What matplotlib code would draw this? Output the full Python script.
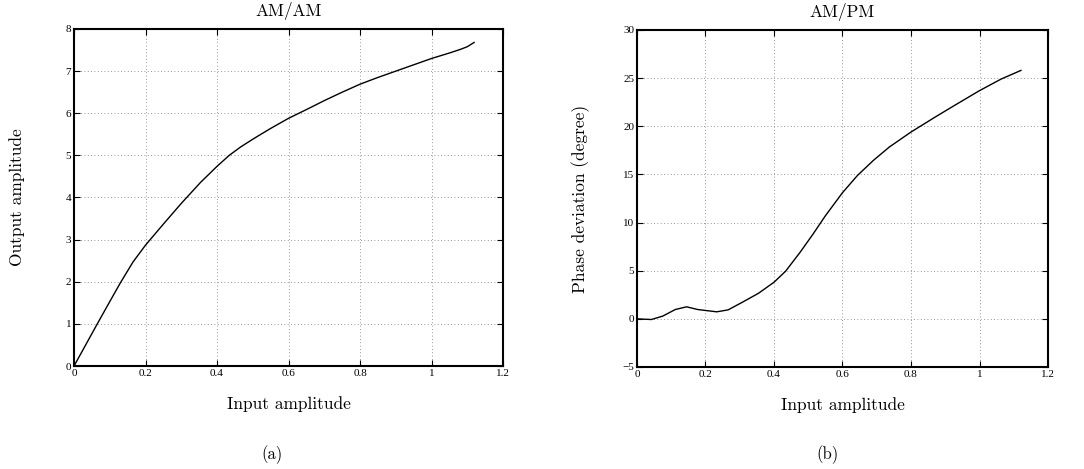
import matplotlib
matplotlib.use("Agg")
import matplotlib.pyplot as plt

# AM/AM data
amam_x = [0, 0.065, 0.1, 0.13, 0.165, 0.2, 0.25, 0.3, 0.354, 0.4, 0.434, 0.466, 0.503,
          0.55, 0.6, 0.653, 0.7, 0.75, 0.8, 0.85, 0.9, 0.95, 1.0, 1.05, 1.082, 1.1, 1.119]
amam_y = [0, 1.0, 1.53, 1.98, 2.47, 2.87, 3.37, 3.86, 4.36, 4.74, 5.0, 5.2, 5.4,
          5.64, 5.88, 6.1, 6.3, 6.5, 6.69, 6.85, 7.0, 7.15, 7.3, 7.43, 7.52, 7.58, 7.68]

# AM/PM data
ampm_x = [0, 0.042, 0.075, 0.112, 0.145, 0.177, 0.233, 0.266, 0.308, 0.355, 0.4,
          0.434, 0.476, 0.513, 0.55, 0.6, 0.644, 0.69, 0.737, 0.8, 0.868, 0.924,
          1.0, 1.063, 1.121]
ampm_y = [0, -0.07, 0.28, 0.97, 1.25, 0.97, 0.73, 0.93, 1.73, 2.66, 3.8,
          4.95, 6.9, 8.75, 10.7, 13.1, 14.9, 16.45, 17.85, 19.4, 20.9, 22.1,
          23.7, 24.9, 25.8]

xticks = [0, 0.2, 0.4, 0.6, 0.8, 1, 1.2]
xticklabels = ["0", "0.2", "0.4", "0.6", "0.8", "1", "1.2"]
amam_yticks = [0, 1, 2, 3, 4, 5, 6, 7, 8]
ampm_yticks = [-5, 0, 5, 10, 15, 20, 25, 30]

LABEL_FONT = 'cmr10'
TICK_FONT = 'Liberation Serif'

fig = plt.figure(figsize=(10.84, 4.69), dpi=100)
ax1 = fig.add_axes([0.0683, 0.2196, 0.3958, 0.7186])
ax2 = fig.add_axes([0.5876, 0.2175, 0.3792, 0.7186])

def style(ax, yticks, ylim, title, ylabel):
    ax.set_xlim(0, 1.2)
    ax.set_ylim(*ylim)
    ax.set_xticks(xticks)
    ax.set_xticklabels(xticklabels, fontfamily=TICK_FONT, fontsize=8)
    ax.set_yticks(yticks)
    ax.set_yticklabels([("\u2212" + str(-t)) if t < 0 else str(t) for t in yticks],
                       fontfamily=TICK_FONT, fontsize=8)
    ax.tick_params(direction='in', top=True, right=True, length=4, width=0.8, pad=2)
    ax.grid(True, linestyle=(0, (1, 3)), color='#777777', linewidth=0.6)
    for s in ax.spines.values():
        s.set_linewidth(1.5)
    ax.set_title(title, fontfamily=LABEL_FONT, fontsize=12.5, pad=9)
    ax.set_xlabel("Input amplitude", fontfamily=LABEL_FONT, fontsize=12.5, labelpad=13)
    ax.set_ylabel(ylabel, fontfamily=LABEL_FONT, fontsize=12.5)
    ax.yaxis.set_label_coords(-0.114, 0.5)

ax1.plot(amam_x, amam_y, color='black', linewidth=1.0)
style(ax1, amam_yticks, (0, 8), "AM/AM", "Output amplitude")

ax2.plot(ampm_x, ampm_y, color='black', linewidth=1.0)
style(ax2, ampm_yticks, (-5, 30), "AM/PM", "Phase deviation (degree)")

fig.text(272 / 1084, 1 - 455 / 469, "(a)", fontfamily=LABEL_FONT, fontsize=12, ha='center', va='center')
fig.text(827 / 1084, 1 - 455 / 469, "(b)", fontfamily=LABEL_FONT, fontsize=12, ha='center', va='center')

fig.savefig("out.png", dpi=100)
